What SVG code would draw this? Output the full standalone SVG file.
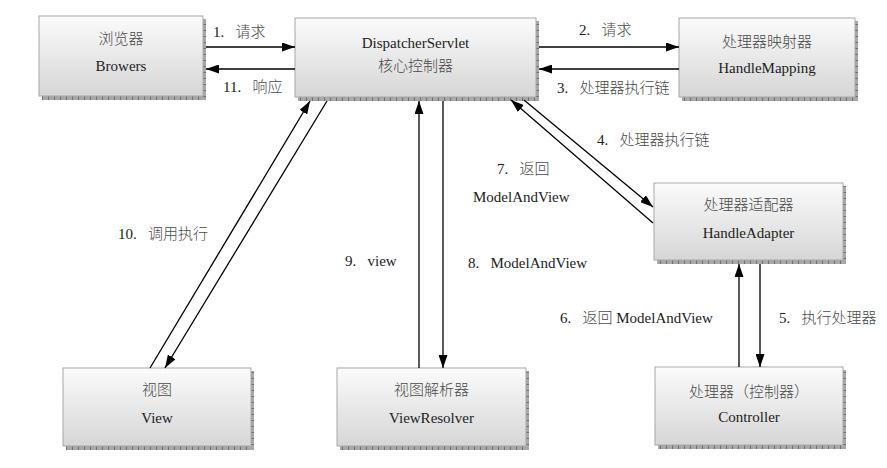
<svg xmlns="http://www.w3.org/2000/svg" width="887" height="468" viewBox="0 0 887 468">
<defs>
<linearGradient id="boxg" x1="0" y1="0" x2="0" y2="1">
<stop offset="0" stop-color="#fbfbfb"/>
<stop offset="1" stop-color="#d6d6d6"/>
</linearGradient>
<pattern id="tickV" width="6" height="6" patternUnits="userSpaceOnUse">
<rect width="6" height="6" fill="#a8a8a8"/>
<rect width="1" height="6" fill="#707070"/>
</pattern>
<pattern id="tickH" width="6" height="6" patternUnits="userSpaceOnUse">
<rect width="6" height="6" fill="#a8a8a8"/>
<rect width="6" height="1" fill="#707070"/>
</pattern>
<marker id="ah" markerUnits="userSpaceOnUse" markerWidth="13" markerHeight="9" refX="13" refY="4.5" orient="auto">
<path d="M0,0 L13,4.5 L0,9 z" fill="#000"/>
</marker>
</defs>
<style>
.box{fill:url(#boxg);stroke:#a8a8a8;stroke-width:1}
.sb{fill:url(#tickV)}
.sr{fill:url(#tickH)}
text{font-family:"Liberation Serif","Noto Sans CJK SC",serif;font-size:15px;fill:#222;white-space:pre}
.z{fill:#4a4a4a;font-weight:300}
.c{text-anchor:middle}
.conn line{stroke:#000;stroke-width:1.3;marker-end:url(#ah)}
</style>

<g id="browser">
<rect class="sb" x="42" y="96" width="164" height="4"/>
<rect class="sr" x="203" y="19" width="3" height="81"/>
<rect class="box" x="39" y="16" width="164" height="80"/>
<text class="c z" x="121" y="44">浏览器</text>
<text class="c" x="121" y="71">Browers</text>
</g>

<g id="dispatcher">
<rect class="sb" x="298" y="97" width="241" height="4"/>
<rect class="sr" x="536" y="21" width="3" height="80"/>
<rect class="box" x="295" y="18" width="241" height="79"/>
<text class="c" x="415.5" y="48">DispatcherServlet</text>
<text class="c z" x="415.5" y="71">核心控制器</text>
</g>

<g id="handlemapping">
<rect class="sb" x="682" y="97" width="176" height="4"/>
<rect class="sr" x="855" y="21" width="3" height="80"/>
<rect class="box" x="679" y="18" width="176" height="79"/>
<text class="c z" x="767" y="47">处理器映射器</text>
<text class="c" x="767" y="73">HandleMapping</text>
</g>

<g id="handleadapter">
<rect class="sb" x="657" y="260" width="189" height="4"/>
<rect class="sr" x="843" y="186" width="3" height="78"/>
<rect class="box" x="654" y="183" width="189" height="77"/>
<text class="c z" x="748.5" y="210">处理器适配器</text>
<text class="c" x="748.5" y="238">HandleAdapter</text>
</g>

<g id="controller">
<rect class="sb" x="658" y="445" width="188" height="4"/>
<rect class="sr" x="843" y="370" width="3" height="79"/>
<rect class="box" x="655" y="367" width="188" height="78"/>
<text class="c z" x="749" y="397">处理器（控制器）</text>
<text class="c" x="749" y="422">Controller</text>
</g>

<g id="view">
<rect class="sb" x="66" y="446" width="188" height="4"/>
<rect class="sr" x="251" y="371" width="3" height="79"/>
<rect class="box" x="63" y="368" width="188" height="78"/>
<text class="c z" x="157" y="395">视图</text>
<text class="c" x="157" y="423">View</text>
</g>

<g id="viewresolver">
<rect class="sb" x="340" y="446" width="189" height="4"/>
<rect class="sr" x="526" y="371" width="3" height="79"/>
<rect class="box" x="337" y="368" width="189" height="78"/>
<text class="c z" x="431.5" y="395">视图解析器</text>
<text class="c" x="431.5" y="423">ViewResolver</text>
</g>

<g id="connectors" class="conn">
<line x1="206" y1="47" x2="295" y2="47"/>
<line x1="295" y1="69" x2="206" y2="69"/>
<line x1="539" y1="47" x2="679" y2="47"/>
<line x1="679" y1="69" x2="539" y2="69"/>
<line x1="524" y1="100" x2="653" y2="207"/>
<line x1="653" y1="223" x2="511" y2="100"/>
<line x1="760" y1="264" x2="760" y2="367"/>
<line x1="739" y1="367" x2="739" y2="264"/>
<line x1="443" y1="101" x2="443" y2="368"/>
<line x1="419" y1="368" x2="419" y2="101"/>
<line x1="150" y1="368" x2="310" y2="101"/>
<line x1="327" y1="101" x2="165" y2="368"/>
</g>

<g id="labels">
<text x="213" y="37">1.   <tspan class="z">请求</tspan></text>
<text x="223" y="92">11.   <tspan class="z">响应</tspan></text>
<text x="579" y="35">2.   <tspan class="z">请求</tspan></text>
<text x="557" y="93">3.   <tspan class="z">处理器执行链</tspan></text>
<text x="597" y="145">4.   <tspan class="z">处理器执行链</tspan></text>
<text x="497" y="174">7.   <tspan class="z">返回</tspan></text>
<text x="473" y="202">ModelAndView</text>
<text x="468" y="268">8.   ModelAndView</text>
<text x="345" y="266">9.   view</text>
<text x="118" y="239">10.   <tspan class="z">调用执行</tspan></text>
<text x="560" y="323">6.   <tspan class="z">返回</tspan> ModelAndView</text>
<text x="779" y="323">5.   <tspan class="z">执行处理器</tspan></text>
</g>
</svg>
